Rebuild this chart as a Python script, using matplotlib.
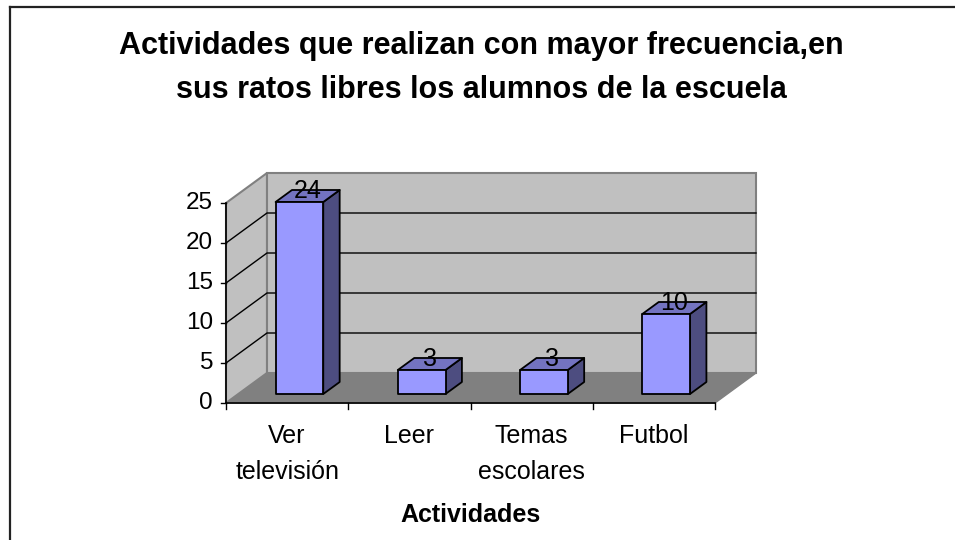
import matplotlib.pyplot as plt
from matplotlib.patches import Polygon
from matplotlib.lines import Line2D

plt.rcParams['font.family'] = ['Liberation Sans', 'DejaVu Sans']

# -------------------------------
# Data
# -------------------------------
categories = ["Ver\ntelevisión", "Leer", "Temas\nescolares", "Futbol"]
values = [24, 3, 3, 10]
y_ticks = [0, 5, 10, 15, 20, 25]
title = "Actividades que realizan con mayor frecuencia,en\nsus ratos libres los alumnos de la escuela"
x_label = "Actividades"

# -------------------------------
# Layout (pixel geometry of the Excel-like 3D plot)
# -------------------------------
W, H = 955, 540
PX_LEFT, PX_RIGHT = 226, 715     # front plane x range in pixels
PX_ZERO, PX_PER_UNIT = 403, 8.0  # y pixel of value 0 (from top), pixels per unit
DEPTH_PX = (41, 30)              # oblique depth offset in pixels
Y_MAX = 25

n = len(categories)
px_per_cat = (PX_RIGHT - PX_LEFT) / n
DX = DEPTH_PX[0] / px_per_cat
DY = DEPTH_PX[1] / PX_PER_UNIT

BAR_W = 0.39
BAR_F0, BAR_F1 = 0.30, 0.70      # bar depth range as fraction of full depth

front_col = "#9999FF"
top_col = "#7373C0"
side_col = "#4D4D80"
wall_col = "#C0C0C0"
floor_col = "#808080"
edge_gray = "#808080"


def proj(x, y, f):
    return (x + f * DX, y + f * DY)


def py(pixel_y):
    # convert a pixel row (from top) into a data y value
    return (PX_ZERO - pixel_y) / PX_PER_UNIT


fig = plt.figure(figsize=(W / 100, H / 100), dpi=100)
ax = fig.add_axes([0, 0, 1, 1])
ax.set_xlim(-PX_LEFT / px_per_cat, (W - PX_LEFT) / px_per_cat)
ax.set_ylim(py(H), py(0))
ax.axis('off')

# chart frame (only the left and top edges are visible)
fig.lines.append(Line2D([10 / W, 10 / W], [0, 1 - 7 / H], transform=fig.transFigure,
                        color='#222222', lw=1.6))
fig.lines.append(Line2D([10 / W, 1.01], [1 - 7 / H, 1 - 7 / H], transform=fig.transFigure,
                        color='#222222', lw=1.6))

# floor
ax.add_patch(Polygon([proj(0, 0, 0), proj(n, 0, 0), proj(n, 0, 1), proj(0, 0, 1)],
                     closed=True, facecolor=floor_col, edgecolor=edge_gray, lw=1, zorder=1))
# left wall
ax.add_patch(Polygon([proj(0, 0, 0), proj(0, Y_MAX, 0), proj(0, Y_MAX, 1), proj(0, 0, 1)],
                     closed=True, facecolor=wall_col, edgecolor=edge_gray, lw=1.5, zorder=1))
# back wall
ax.add_patch(Polygon([proj(0, 0, 1), proj(0, Y_MAX, 1), proj(n, Y_MAX, 1), proj(n, 0, 1)],
                     closed=True, facecolor=wall_col, edgecolor=edge_gray, lw=1.5, zorder=1))

# gridlines
for t in y_ticks[1:-1]:
    a = proj(0, t, 0)
    b = proj(0, t, 1)
    c = proj(n, t, 1)
    ax.plot([a[0], b[0], c[0]], [a[1], b[1], c[1]], color='black', lw=1, zorder=2)

# axes lines and ticks
ax.plot([0, 0], [0, Y_MAX], color='black', lw=1.2, zorder=3)
ax.plot([0, n], [0, 0], color='black', lw=1.2, zorder=3)
tick_len_x = 5 / px_per_cat
tick_len_y = 6 / PX_PER_UNIT
for t in y_ticks:
    ax.plot([-tick_len_x, 0], [t, t], color='black', lw=1, zorder=3)
    ax.text(-13 / px_per_cat, t, str(t), ha='right', va='center', fontsize=17.5)
for i in range(n + 1):
    ax.plot([i, i], [0, -tick_len_y], color='black', lw=1, zorder=3)

# bars
for i, (cat, v) in enumerate(zip(categories, values)):
    x0 = i + 0.5 - BAR_W / 2
    x1 = i + 0.5 + BAR_W / 2
    front = [proj(x0, 0, BAR_F0), proj(x1, 0, BAR_F0), proj(x1, v, BAR_F0), proj(x0, v, BAR_F0)]
    side = [proj(x1, 0, BAR_F0), proj(x1, 0, BAR_F1), proj(x1, v, BAR_F1), proj(x1, v, BAR_F0)]
    top = [proj(x0, v, BAR_F0), proj(x1, v, BAR_F0), proj(x1, v, BAR_F1), proj(x0, v, BAR_F1)]
    for poly, col in ((side, side_col), (top, top_col), (front, front_col)):
        ax.add_patch(Polygon(poly, closed=True, facecolor=col, edgecolor='black',
                             lw=1.3, joinstyle='round', zorder=4))
    lx, ly = proj(i + 0.5, v, (BAR_F0 + BAR_F1) / 2)
    ax.text(lx, ly - 0.3, str(v), ha='center', va='baseline', fontsize=18, zorder=5)
    ax.text(i + 0.5, py(424), cat, ha='center', va='top', fontsize=18,
            linespacing=1.62)

ax.text(n / 2, py(522), x_label, ha='center', va='baseline',
        fontsize=18, fontweight='bold')

fig.text(481 / W, 1 - 68 / H, title, ha='center', va='center', fontsize=22,
         fontweight='bold', linespacing=1.63)

fig.savefig("out.png", dpi=100)
